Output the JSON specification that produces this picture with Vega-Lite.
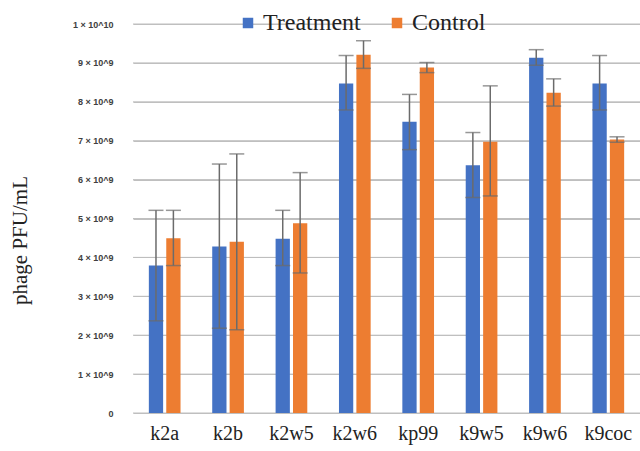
{
  "$schema": "https://vega.github.io/schema/vega-lite/v6.json",
  "width": 507,
  "height": 389,
  "autosize": {"type": "none"},
  "padding": {"left": 133, "top": 24, "right": 0, "bottom": 38},
  "background": "white",
  "datasets": {
    "bars": [
      {"cat": "k2a", "group": "Treatment", "value": 3.79, "lo": 2.37, "hi": 5.21},
      {"cat": "k2a", "group": "Control", "value": 4.49, "lo": 3.79, "hi": 5.21},
      {"cat": "k2b", "group": "Treatment", "value": 4.28, "lo": 2.18, "hi": 6.40},
      {"cat": "k2b", "group": "Control", "value": 4.40, "lo": 2.14, "hi": 6.66},
      {"cat": "k2w5", "group": "Treatment", "value": 4.48, "lo": 3.79, "hi": 5.21},
      {"cat": "k2w5", "group": "Control", "value": 4.88, "lo": 3.60, "hi": 6.18},
      {"cat": "k2w6", "group": "Treatment", "value": 8.47, "lo": 7.79, "hi": 9.19},
      {"cat": "k2w6", "group": "Control", "value": 9.21, "lo": 8.86, "hi": 9.57},
      {"cat": "kp99", "group": "Treatment", "value": 7.49, "lo": 6.77, "hi": 8.19},
      {"cat": "kp99", "group": "Control", "value": 8.88, "lo": 8.75, "hi": 9.01},
      {"cat": "k9w5", "group": "Treatment", "value": 6.37, "lo": 5.54, "hi": 7.21},
      {"cat": "k9w5", "group": "Control", "value": 6.97, "lo": 5.58, "hi": 8.41},
      {"cat": "k9w6", "group": "Treatment", "value": 9.13, "lo": 8.94, "hi": 9.34},
      {"cat": "k9w6", "group": "Control", "value": 8.23, "lo": 7.89, "hi": 8.59},
      {"cat": "k9coc", "group": "Treatment", "value": 8.47, "lo": 7.79, "hi": 9.19},
      {"cat": "k9coc", "group": "Control", "value": 7.03, "lo": 6.96, "hi": 7.10}
    ],
    "gridlines": [
      {"value": 0}, {"value": 1}, {"value": 2}, {"value": 3}, {"value": 4}, {"value": 5},
      {"value": 6}, {"value": 7}, {"value": 8}, {"value": 9}, {"value": 10}
    ]
  },
  "encoding": {
    "y": {
      "field": "value", "type": "quantitative",
      "scale": {"domain": [0, 10], "nice": false},
      "axis": {
        "values": [0, 1, 2, 3, 4, 5, 6, 7, 8, 9, 10],
        "labelExpr": "datum.value == 0 ? '0' : datum.value == 10 ? '1 × 10^10' : datum.value + ' × 10^9'",
        "labelOverlap": false,
        "grid": true, "gridColor": "#bfbfbf", "gridWidth": 1,
        "title": "phage PFU/mL"
      }
    }
  },
  "layer": [
    {
      "data": {"name": "gridlines"},
      "mark": {"type": "rule", "color": "#bfbfbf", "strokeWidth": 1},
      "encoding": {
        "x": {"value": 0},
        "x2": {"value": "width"}
      }
    },
    {
      "data": {"name": "bars"},
      "encoding": {
        "x": {
          "field": "cat", "type": "nominal", "sort": null,
          "scale": {"paddingInner": 0.5, "paddingOuter": 0.25},
          "axis": {
            "title": null, "labelAngle": 0, "domain": false, "ticks": false, "grid": false,
            "labelFont": "Liberation Serif", "labelFontSize": 20, "labelColor": "#222222",
            "labelPadding": 10
          }
        },
        "xOffset": {
          "field": "group", "type": "nominal", "sort": ["Treatment", "Control"],
          "scale": {"paddingInner": 0.18, "paddingOuter": 0}
        }
      },
      "layer": [
        {
          "mark": {"type": "bar"},
          "encoding": {
            "color": {
              "field": "group", "type": "nominal",
              "scale": {"domain": ["Treatment", "Control"], "range": ["#4472C4", "#ED7D31"]},
              "legend": {
                "title": null, "orient": "none", "direction": "horizontal",
                "legendX": 103, "legendY": -13,
                "symbolType": "square", "symbolSize": 110, "symbolStrokeWidth": 0,
                "labelFont": "Liberation Serif", "labelFontSize": 24, "labelColor": "#222222",
                "labelOffset": 3, "columnPadding": 24
              }
            }
          }
        },
        {
          "mark": {"type": "rule", "color": "#6b6b6b", "strokeWidth": 1.5},
          "encoding": {
            "y": {"field": "lo", "type": "quantitative"},
            "y2": {"field": "hi"}
          }
        },
        {
          "mark": {"type": "tick", "color": "#6b6b6b", "thickness": 1.5, "size": 15, "orient": "horizontal"},
          "encoding": {
            "y": {"field": "lo", "type": "quantitative"}
          }
        },
        {
          "mark": {"type": "tick", "color": "#6b6b6b", "thickness": 1.5, "size": 15, "orient": "horizontal"},
          "encoding": {
            "y": {"field": "hi", "type": "quantitative"}
          }
        }
      ]
    }
  ],
  "config": {
    "view": {"stroke": null},
    "axisY": {
      "domain": false, "ticks": false,
      "labelOverlap": false,
      "labelFont": "Liberation Sans", "labelFontSize": 9, "labelFontWeight": "bold",
      "labelColor": "#404040", "labelPadding": 20,
      "titleFont": "Liberation Serif", "titleFontSize": 21, "titleFontWeight": "normal",
      "titleColor": "#222222", "titleX": -113, "titleY": 216, "titleAngle": -90,
      "titleAlign": "center", "titleBaseline": "middle"
    }
  }
}
